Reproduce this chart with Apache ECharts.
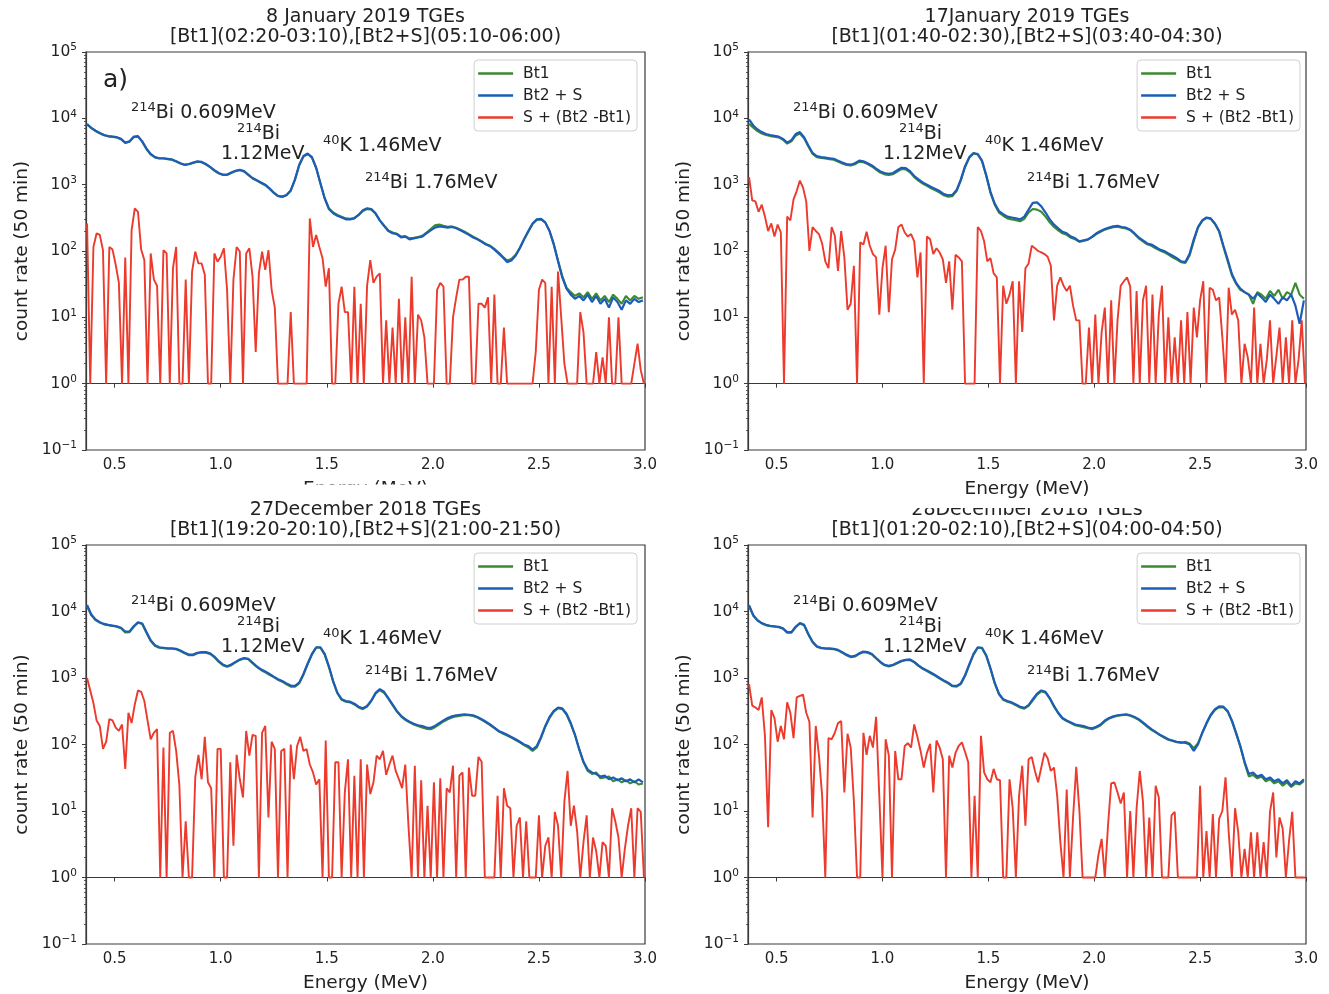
<!DOCTYPE html>
<html>
<head>
<meta charset="utf-8">
<title>TGE energy spectra</title>
<script src="https://cdn.jsdelivr.net/npm/echarts@6.0.0/dist/echarts.min.js"></script>
<style>
  html, body { margin: 0; padding: 0; background: #ffffff; }
  #chart { width: 1329px; height: 994px; }
</style>
</head>
<body>
<div id="chart"></div>
<script>
// ---------- energy grids (MeV) ----------
const LINE_START = 0.37, LINE_STEP = 0.02;   // Bt1 and Bt2+S channels
const DIFF_START = 0.37, DIFF_STEP = 0.015;  // difference spectrum channels

const xTickValues = [0.5, 1.0, 1.5, 2.0, 2.5, 3.0];
const xRange = [0.365, 3.0];
const yRange = [0.1, 100000];

const seriesNames = ['Bt1', 'Bt2 + S', 'S + (Bt2 -Bt1)'];

const panelTitles = [
  ['8 January 2019 TGEs', '[Bt1](02:20-03:10),[Bt2+S](05:10-06:00)'],
  ['17January 2019 TGEs', '[Bt1](01:40-02:30),[Bt2+S](03:40-04:30)'],
  ['27December 2018 TGEs', '[Bt1](19:20-20:10),[Bt2+S](21:00-21:50)'],
  ['28December 2018 TGEs', '[Bt1](01:20-02:10),[Bt2+S](04:00-04:50)']
];

// peak annotations: [mass number, rest of label]
const peakLabels = [
  ['214', 'Bi 0.609MeV'],
  ['214', 'Bi'],
  ['', '1.12MeV'],
  ['40', 'K 1.46MeV'],
  ['214', 'Bi 1.76MeV']
];

// ---------- 8 January 2019 ----------
const bt2Jan08 = [
  8200, 7200, 6500, 6000, 5600, 5400, 5300, 5200, 4900, 4300,
  4500, 5300, 5400, 4500, 3500, 2900, 2600, 2500, 2500, 2450,
  2400, 2250, 2100, 2000, 2050, 2150, 2250, 2200, 2050, 1850,
  1650, 1500, 1420, 1420, 1520, 1620, 1680, 1600, 1420, 1260,
  1170, 1080, 1000, 880, 760, 680, 660, 700, 820, 1200,
  2000, 2700, 2950, 2600, 1800, 1050, 620, 430, 370, 340,
  320, 300, 300, 310, 350, 410, 440, 430, 370, 290,
  240, 200, 185, 180, 160, 165, 150, 155, 160, 165,
  185, 205, 225, 235, 230, 225, 230, 220, 205, 190,
  175, 160, 150, 138, 125, 118, 105, 92, 80, 68,
  72, 85, 110, 150, 200, 260, 300, 305, 270, 200,
  125, 70, 40, 27, 22, 19, 21, 18, 22, 17,
  21, 16, 19, 14, 20, 17, 13, 18, 16, 19,
  17, 18
];
const bt1Jan08 = [
  8100, 7100, 6450, 5950, 5550, 5350, 5250, 5150, 4850, 4250,
  4450, 5200, 5300, 4450, 3450, 2850, 2580, 2480, 2480, 2430,
  2380, 2230, 2080, 1980, 2030, 2120, 2220, 2180, 2030, 1830,
  1630, 1480, 1400, 1400, 1500, 1600, 1650, 1580, 1400, 1240,
  1150, 1060, 980, 870, 750, 670, 650, 690, 810, 1180,
  1950, 2650, 2900, 2550, 1780, 1040, 630, 440, 380, 350,
  330, 310, 305, 315, 350, 400, 430, 420, 365, 290,
  240, 205, 190, 182, 165, 168, 155, 158, 162, 170,
  190, 215, 245, 250, 240, 232, 235, 225, 210, 195,
  180, 165, 152, 140, 128, 120, 108, 95, 82, 72,
  76, 88, 112, 150, 195, 255, 295, 300, 268, 200,
  128, 72, 42, 28, 24, 21, 23, 20, 24, 19,
  23, 18, 21, 17, 22, 19, 16, 21, 18, 21,
  19, 20
];
const diffJan08 = [
  260, 1, 115, 185, 175, 103, 1, 115, 105, 62,
  33, 1, 80, 1, 207, 440, 390, 105, 73, 1,
  92, 37, 30, 1, 103, 92, 1, 55, 115, 1,
  1, 37, 1, 49, 98, 65, 65, 44, 1, 1,
  92, 69, 82, 110, 26, 1, 37, 115, 98, 1,
  92, 110, 41, 3, 46, 98, 52, 103, 26, 14,
  1, 1, 1, 1, 12, 1, 1, 1, 1, 1,
  310, 115, 175, 115, 78, 29, 55, 1, 1, 16,
  29, 12, 12, 1, 29, 1, 16, 1, 30, 73,
  33, 41, 46, 1, 9, 1, 7, 1, 19, 1,
  10, 1, 41, 1, 11, 9, 5, 1, 1, 1,
  26, 33, 29, 1, 1, 10, 20, 37, 37, 41,
  41, 1, 1, 16, 16, 14, 20, 1, 22, 1,
  1, 7, 1, 1, 1, 1, 1, 1, 1, 1,
  1, 3, 26, 37, 33, 1, 29, 1, 49, 10,
  2, 1, 1, 1, 1, 12, 6, 1, 1, 1,
  3, 1, 2.5, 1, 10, 1, 1, 10, 1, 1,
  1, 1, 2, 4, 1.6, 1
];

// ---------- 17 January 2019 ----------
const bt2Jan17 = [
  9600, 7800, 6800, 6200, 5800, 5600, 5450, 5300, 4900, 4300,
  4700, 5800, 6200, 5200, 3900, 3000, 2700, 2600, 2550, 2500,
  2450, 2300, 2150, 2050, 2000, 2100, 2300, 2250, 2100, 1950,
  1750, 1580, 1500, 1460, 1500, 1650, 1800, 1780, 1600, 1350,
  1200, 1080, 1000, 920, 860, 800, 720, 690, 700, 830,
  1200, 1900, 2600, 3000, 2900, 2300, 1400, 780, 520, 400,
  360, 330, 320, 310, 300, 330, 420, 530, 540, 470,
  380, 300, 250, 220, 195, 185, 165, 155, 140, 145,
  150, 165, 185, 200, 215, 225, 235, 240, 230, 225,
  210, 185, 160, 145, 130, 125, 115, 105, 100, 92,
  85, 78, 70, 68, 90, 150, 230, 290, 320, 310,
  260, 200, 120, 75, 45, 33, 27, 24, 22, 19,
  23, 20, 17, 22, 19, 16, 20, 18, 22, 15,
  8, 18
];
const bt1Jan17 = [
  8300, 7200, 6400, 5900, 5600, 5400, 5300, 5150, 4750, 4150,
  4500, 5500, 5900, 5000, 3750, 2900, 2600, 2520, 2480, 2420,
  2380, 2230, 2080, 1980, 1940, 2030, 2220, 2180, 2040, 1880,
  1680, 1520, 1430, 1400, 1440, 1580, 1720, 1700, 1530, 1300,
  1150, 1040, 960, 880, 820, 760, 690, 660, 670, 800,
  1150, 1850, 2550, 2950, 2850, 2250, 1350, 750, 500, 380,
  340, 310, 300, 290, 280, 305, 380, 430, 420, 390,
  330, 270, 230, 205, 185, 175, 158, 150, 138, 142,
  148, 162, 180, 195, 210, 220, 228, 232, 225, 218,
  205, 180, 155, 140, 126, 120, 110, 102, 96, 88,
  80, 74, 68, 66, 85, 140, 225, 285, 315, 305,
  255, 195, 115, 70, 43, 32, 26, 24, 22, 16,
  24, 22, 19, 25, 21, 26, 19, 24, 22, 33,
  22, 19
];
const diffJan17 = [
  1300, 580, 560, 390, 500, 330, 200, 260, 165, 250,
  190, 1, 330, 290, 600, 800, 1150, 900, 560, 100,
  230, 200, 180, 130, 70, 55, 230, 170, 50, 200,
  80, 13, 16, 60, 1, 135, 125, 195, 120, 90,
  80, 11, 55, 120, 12, 75, 105, 230, 250, 190,
  165, 180, 140, 40, 95, 1, 165, 150, 90, 110,
  95, 75, 33, 70, 13, 88, 80, 70, 1, 1,
  1, 1, 230, 200, 140, 70, 78, 46, 40, 1,
  30, 16, 22, 35, 1, 35, 6, 55, 65, 120,
  110, 100, 95, 90, 82, 60, 9, 30, 40, 30,
  25, 30, 15, 9, 9, 1, 1, 7, 1, 11,
  1, 6, 14, 1, 18, 1, 9, 30, 35, 40,
  29, 1, 25, 1, 18, 30, 1, 22, 1, 11,
  30, 1, 10, 1, 5, 1, 9, 1, 12, 1,
  14, 5, 18, 35, 1, 28, 26, 18, 20, 5,
  1, 28, 11, 13, 9, 1, 4, 2.5, 1, 14,
  1, 4, 1, 2.3, 9, 1, 2.6, 7, 1, 5,
  1, 9, 1, 2.3, 9, 1
];

// ---------- 27 December 2018 ----------
const bt2Dec27 = [
  12500, 9000, 7600, 6900, 6500, 6300, 6150, 6000, 5700, 5000,
  5000, 6000, 6900, 6600, 4900, 3700, 3100, 2900, 2850, 2800,
  2800, 2750, 2600, 2400, 2250, 2250, 2400, 2450, 2450, 2350,
  2100, 1800, 1600, 1500, 1600, 1750, 1900, 2000, 1950, 1700,
  1500, 1350, 1250, 1150, 1050, 960, 900, 830, 770, 760,
  850, 1150, 1650, 2300, 2900, 2900, 2300, 1500, 900, 600,
  480, 450, 440, 410, 370, 350, 380, 460, 600, 680,
  620, 500, 400, 320, 270, 240, 220, 205, 195, 190,
  180, 178, 190, 210, 230, 250, 265, 275, 280, 285,
  280, 275, 260, 240, 220, 200, 180, 160, 150, 140,
  130, 120, 110, 100, 95, 84, 95, 130, 190, 260,
  320, 360, 350, 290, 210, 140, 85, 55, 42, 38,
  36, 33, 34, 30, 32, 29, 31, 28, 30, 27,
  30, 27
];
const bt1Dec27 = [
  12000, 8800, 7400, 6800, 6400, 6200, 6050, 5900, 5600, 4850,
  4900, 5900, 6800, 6500, 4800, 3600, 3050, 2850, 2800, 2750,
  2750, 2700, 2550, 2350, 2200, 2200, 2350, 2420, 2400, 2300,
  2050, 1760, 1560, 1470, 1560, 1720, 1870, 1960, 1920, 1670,
  1470, 1320, 1220, 1120, 1030, 940, 880, 800, 740, 740,
  830, 1120, 1620, 2250, 2850, 2850, 2250, 1460, 880, 590,
  470, 440, 430, 400, 360, 340, 370, 450, 580, 660,
  600, 490, 390, 315, 265, 235, 215, 200, 190, 180,
  172, 170, 182, 200, 222, 240, 255, 265, 272, 278,
  275, 268, 255, 235, 215, 195, 176, 158, 146, 136,
  127, 117, 108, 98, 90, 80, 90, 126, 185, 250,
  312, 350, 340, 282, 205, 138, 84, 54, 40, 36,
  38, 31, 32, 33, 28, 30, 27, 29, 26, 28,
  25, 26
];
const diffDec27 = [
  1000, 650, 420, 230, 190, 86, 110, 240, 230, 180,
  160, 200, 43, 300, 210, 400, 650, 620, 450, 230,
  120, 150, 170, 1, 90, 1, 150, 160, 80, 25,
  1, 7, 1, 1, 32, 70, 30, 130, 27, 22,
  1, 86, 86, 1, 1, 54, 3, 70, 30, 16,
  160, 68, 140, 135, 1, 150, 190, 8, 110, 86,
  1, 80, 86, 1, 100, 30, 95, 130, 80, 85,
  50, 38, 25, 30, 1, 115, 1, 1, 54, 54,
  1, 19, 60, 1, 34, 1, 60, 1, 50, 18,
  27, 68, 60, 80, 35, 50, 68, 40, 30, 22,
  50, 6, 1, 48, 1, 29, 1, 12, 1, 27,
  1, 31, 1, 22, 19, 48, 1, 34, 38, 1,
  45, 17, 17, 65, 55, 1, 1, 1, 1, 17,
  1, 22, 12, 11, 1, 6, 8, 1, 7, 1,
  1, 1, 8.6, 1, 3, 4, 1, 9.7, 6, 1,
  14, 40, 6, 12, 5, 1, 3.4, 8.6, 1, 4,
  2.5, 1, 3.4, 3, 1, 11, 7, 4, 1, 2.7,
  6, 11, 1, 11, 9.7, 1
];

// ---------- 28 December 2018 ----------
const bt2Dec28 = [
  12500, 8800, 7400, 6700, 6300, 6100, 6000, 5900, 5600, 4900,
  4900, 5900, 6700, 6300, 4600, 3500, 3000, 2850, 2800, 2780,
  2750, 2650, 2450, 2250, 2100, 2150, 2350, 2500, 2450, 2300,
  2000, 1750, 1580, 1520, 1580, 1700, 1820, 1880, 1900, 1750,
  1550, 1400, 1300, 1200, 1100, 1000, 920, 850, 770, 760,
  830, 1100, 1600, 2300, 2900, 2850, 2200, 1400, 850, 580,
  480, 450, 430, 400, 370, 355, 390, 480, 580, 650,
  620, 500, 380, 300, 250, 230, 215, 200, 195, 190,
  180, 175, 185, 200, 230, 250, 265, 275, 280, 285,
  275, 260, 240, 215, 190, 170, 155, 140, 130, 120,
  115, 110, 108, 106, 100, 80, 100, 150, 210, 280,
  340, 375, 370, 320, 230, 150, 95, 55, 36, 38,
  33, 35, 30, 32, 28, 30, 26, 29, 24, 28,
  26, 30
];
const bt1Dec28 = [
  12000, 8600, 7300, 6600, 6200, 6000, 5900, 5800, 5500, 4800,
  4800, 5800, 6600, 6200, 4500, 3450, 2950, 2800, 2750, 2730,
  2700, 2600, 2400, 2200, 2060, 2100, 2300, 2450, 2400, 2250,
  1960, 1720, 1550, 1490, 1550, 1670, 1790, 1850, 1860, 1720,
  1520, 1370, 1270, 1170, 1080, 980, 900, 830, 750, 740,
  810, 1080, 1570, 2250, 2850, 2800, 2150, 1370, 830, 570,
  470, 440, 420, 390, 360, 345, 380, 460, 560, 630,
  600, 490, 370, 295, 245, 225, 210, 195, 188, 182,
  175, 170, 180, 195, 222, 245, 260, 270, 276, 280,
  270, 255, 235, 210, 186, 166, 152, 138, 127, 118,
  113, 108, 105, 110, 104, 88, 105, 148, 205, 272,
  330, 365, 362, 312, 225, 146, 92, 53, 33, 35,
  31, 33, 28, 30, 26, 28, 24, 27, 23, 26,
  25, 28
];
const diffDec28 = [
  810, 385, 360, 330, 510, 135, 5.7, 330, 250, 110,
  190, 120, 430, 300, 125, 510, 540, 560, 300, 220,
  8, 190, 68, 17, 1, 125, 120, 150, 210, 225,
  19, 145, 90, 14, 1, 1, 150, 70, 135, 90,
  260, 17, 1, 120, 68, 1, 80, 30, 30, 95,
  105, 90, 200, 130, 80, 45, 75, 102, 19, 115,
  90, 60, 1, 68, 45, 75, 95, 108, 77, 54,
  1, 17, 1, 135, 38, 30, 27, 43, 30, 29,
  1, 1, 30, 11, 1, 17, 48, 6, 60, 65,
  40, 27, 45, 75, 62, 40, 45, 17, 3.4, 1,
  21, 1, 8, 46, 10, 1, 1, 1, 1, 1,
  2.2, 3.8, 1, 6, 26, 27, 19, 13, 19, 1,
  10, 1, 11, 40, 14, 1, 8, 1, 24, 16,
  1, 1, 1, 8.6, 9.7, 1, 1, 1, 1, 1,
  1, 1, 24, 1, 5, 1, 9, 1, 7.7, 10,
  32, 4.8, 1, 11, 4.8, 1, 2.7, 1, 4.8, 1,
  4.8, 1, 3.4, 1, 9.7, 19, 2, 8, 5.4, 1,
  3.6, 9.7, 1, 1, 1, 1
];

const bt1Sets = [bt1Jan08, bt1Jan17, bt1Dec27, bt1Dec28];
const bt2Sets = [bt2Jan08, bt2Jan17, bt2Dec27, bt2Dec28];
const diffSets = [diffJan08, diffJan17, diffDec27, diffDec28];

// ---------- layout and styling ----------
const FONT = 'DejaVu Sans';
const INK = '#222222';
const FRAME = '#3a3a3a';
const COLORS = ['#3b8a2f', '#1d5cb8', '#ec3a2c'];
const LINE_WIDTHS = [2.1, 2.2, 1.9];

const panels = [
  { left: 86, top: 52, width: 559, height: 398, legendRight: 692 },
  { left: 748, top: 52, width: 558, height: 398, legendRight: 29 },
  { left: 86, top: 545, width: 559, height: 399, legendRight: 692 },
  { left: 748, top: 545, width: 558, height: 399, legendRight: 29 }
];
// label anchor offsets from each plot's top-left corner
const peakOffsets = [[45, 61], [151, 82], [135, 102], [237, 94], [279, 131]];

// minor tick positions on a decade scale (2..9 within each decade)
const minorDecadeTicks = [];
for (let d = -1; d < 5; d++) {
  for (let k = 2; k <= 9; k++) minorDecadeTicks.push(d + Math.log10(k));
}

function toPairs(start, step, values) {
  return values.map(function (v, i) { return [Number((start + i * step).toFixed(4)), v]; });
}

function powerLabel(v) {
  const e = Math.round(Math.log10(v));
  return '{b|10}{s|' + (e < 0 ? '\u2212' + (-e) : String(e)) + '}';
}

const grid = [], xAxis = [], yAxis = [], series = [], legend = [], graphic = [];

panels.forEach(function (p, k) {
  grid.push({
    left: p.left, top: p.top, width: p.width, height: p.height,
    show: true, borderColor: FRAME, borderWidth: 1.2, backgroundColor: 'transparent'
  });

  xAxis.push({
    gridIndex: k, type: 'value', min: xRange[0], max: xRange[1],
    axisLine: { show: true, lineStyle: { color: FRAME, width: 1.2 } },
    axisTick: { show: true, customValues: xTickValues, length: 4, lineStyle: { color: FRAME, width: 1 } },
    axisLabel: {
      customValues: xTickValues, margin: 8, fontSize: 15, color: INK, fontFamily: FONT,
      formatter: function (v) { return Number(v).toFixed(1); }
    },
    splitLine: { show: false }
  });

  // main logarithmic count-rate axis
  yAxis.push({
    gridIndex: k, type: 'log', logBase: 10, min: yRange[0], max: yRange[1],
    axisLine: { show: true, lineStyle: { color: FRAME, width: 1.2 } },
    axisTick: { show: true, length: 4, lineStyle: { color: FRAME, width: 1 } },
    axisLabel: {
      margin: 9, formatter: powerLabel,
      rich: {
        b: { fontSize: 15.5, color: INK, fontFamily: FONT, lineHeight: 20 },
        s: { fontSize: 10.5, color: INK, fontFamily: FONT, lineHeight: 11, verticalAlign: 'top' }
      }
    },
    splitLine: { show: false }
  });
  // companion axis that only carries the minor decade ticks
  yAxis.push({
    gridIndex: k, type: 'value', min: -1, max: 5, position: 'left',
    axisLine: { show: false },
    axisTick: { show: true, customValues: minorDecadeTicks, length: 2, lineStyle: { color: FRAME, width: 0.8 } },
    axisLabel: { show: false },
    splitLine: { show: false }
  });

  const sets = [bt1Sets[k], bt2Sets[k], diffSets[k]];
  sets.forEach(function (vals, s) {
    const isDiff = s === 2;
    series.push({
      name: seriesNames[s], type: 'line',
      xAxisIndex: k, yAxisIndex: 2 * k,
      data: isDiff ? toPairs(DIFF_START, DIFF_STEP, vals) : toPairs(LINE_START, LINE_STEP, vals),
      symbol: 'none', showSymbol: false, color: COLORS[s],
      lineStyle: { color: COLORS[s], width: LINE_WIDTHS[s] },
      z: 2 + s, silent: true
    });
  });

  legend.push({
    right: p.legendRight, top: p.top + 8, orient: 'vertical', align: 'left',
    data: seriesNames, selectedMode: false,
    icon: 'rect', itemWidth: 35, itemHeight: 2.5, itemGap: 5,
    textStyle: { fontSize: 15.5, color: INK, fontFamily: FONT, lineHeight: 17, padding: [0, 0, 0, 5] },
    padding: [5, 6, 5, 4],
    borderColor: '#d0d0d0', borderWidth: 1, borderRadius: 4,
    backgroundColor: 'rgba(255,255,255,0.85)'
  });

  const cx = p.left + p.width / 2;
  // two-line panel title
  panelTitles[k].forEach(function (line, j) {
    graphic.push({
      type: 'text', x: cx, y: p.top - 34.5 + 20 * j, z: 50,
      style: { text: line, fill: INK, fontSize: 19, fontFamily: FONT,
               align: 'center', verticalAlign: 'middle', textAlign: 'center', textVerticalAlign: 'middle' }
    });
  });
  // axis names
  graphic.push({
    type: 'text', x: p.left - 64, y: p.top + p.height / 2, rotation: Math.PI / 2, z: 50,
    style: { text: 'count rate (50 min)', fill: INK, fontSize: 18.5, fontFamily: FONT,
             align: 'center', verticalAlign: 'middle', textAlign: 'center', textVerticalAlign: 'middle' }
  });
  graphic.push({
    type: 'text', x: cx, y: p.top + p.height + 39.5, z: 50,
    style: { text: 'Energy (MeV)', fill: INK, fontSize: 18.5, fontFamily: FONT,
             align: 'center', verticalAlign: 'middle', textAlign: 'center', textVerticalAlign: 'middle' }
  });
  // peak identifications
  peakLabels.forEach(function (lab, j) {
    const txt = (lab[0] ? '{s|' + lab[0] + '}' : '') + '{m|' + lab[1] + '}';
    graphic.push({
      type: 'text', x: p.left + peakOffsets[j][0], y: p.top + peakOffsets[j][1], z: 50,
      style: {
        text: txt, align: 'left', verticalAlign: 'middle', textAlign: 'left', textVerticalAlign: 'middle',
        rich: {
          m: { fontSize: 19, fill: INK, color: INK, fontFamily: FONT, lineHeight: 24 },
          s: { fontSize: 13, fill: INK, color: INK, fontFamily: FONT, lineHeight: 13, verticalAlign: 'top' }
        }
      }
    });
  });
});

// panel tag
graphic.push({
  type: 'text', x: 103, y: 80, z: 50,
  style: { text: 'a)', fill: INK, fontSize: 25, fontFamily: FONT,
           align: 'left', verticalAlign: 'middle', textAlign: 'left', textVerticalAlign: 'middle' }
});
// neighbouring headings overlap the upper x-axis name and the lower-right title
graphic.push({ type: 'rect', z: 100, shape: { x: 270, y: 484.5, width: 200, height: 16 }, style: { fill: '#ffffff' } });
graphic.push({ type: 'rect', z: 100, shape: { x: 880, y: 499, width: 300, height: 9 }, style: { fill: '#ffffff' } });

const chart = echarts.init(document.getElementById('chart'), null, { renderer: 'canvas' });
chart.setOption({
  animation: false,
  backgroundColor: '#ffffff',
  textStyle: { fontFamily: FONT },
  grid: grid, xAxis: xAxis, yAxis: yAxis, series: series, legend: legend, graphic: graphic
});
</script>
</body>
</html>
